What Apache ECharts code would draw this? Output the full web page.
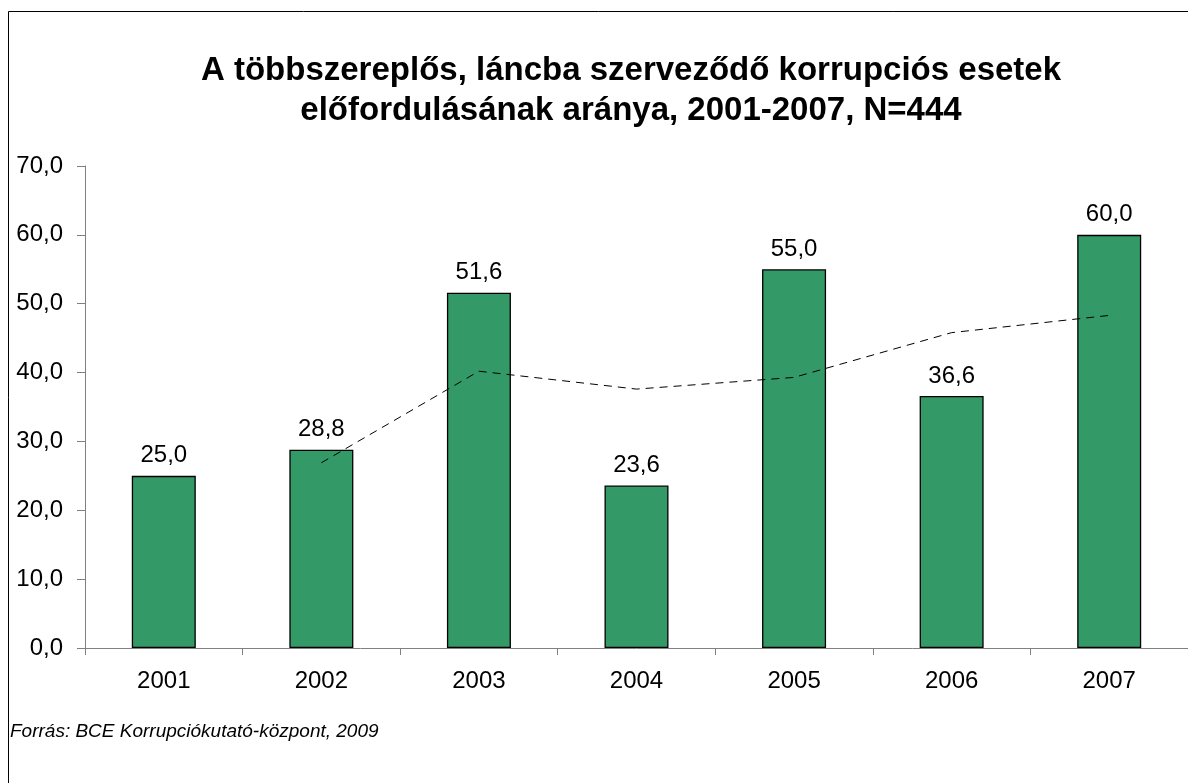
<!DOCTYPE html>
<html>
<head>
<meta charset="utf-8">
<script src="https://cdn.jsdelivr.net/npm/echarts@6/dist/echarts.min.js"></script>
<style>
  html, body { margin: 0; padding: 0; background: #fff; }
  #chart { width: 1188px; height: 783px; }
</style>
</head>
<body>
<div id="chart"></div>
<script>
var years = ['2001', '2002', '2003', '2004', '2005', '2006', '2007'];
var shares = [25.0, 28.8, 51.6, 23.6, 55.0, 36.6, 60.0];
var trend = ['-', 26.9, 40.2, 37.6, 39.3, 45.8, 48.3];

var chart = echarts.init(document.getElementById('chart'));

function fmt(v) {
  return v.toFixed(1).replace('.', ',');
}

var option = {
  animation: false,
  backgroundColor: '#ffffff',
  textStyle: { fontFamily: 'Liberation Sans, Arial, sans-serif' },
  graphic: [
    {
      type: 'polyline',
      shape: { points: [[8.5, 790], [8.5, 11.5], [1195, 11.5]] },
      style: { stroke: '#000', lineWidth: 1, fill: null }
    },
    {
      type: 'text',
      left: 10,
      top: 722,
      style: {
        text: 'Forrás: BCE Korrupciókutató-központ, 2009',
        fontStyle: 'italic',
        fontSize: 19,
        fill: '#000',
        fontFamily: 'Liberation Sans, Arial, sans-serif'
      }
    }
  ],
  title: {
    text: 'A többszereplős, láncba szerveződő korrupciós esetek\nelőfordulásának aránya, 2001-2007, N=444',
    left: 626,
    top: 46,
    textAlign: 'center',
    textStyle: {
      fontSize: 33,
      fontWeight: 'bold',
      color: '#000',
      lineHeight: 40,
      fontFamily: 'Liberation Sans, Arial, sans-serif'
    }
  },
  grid: {
    left: 85,
    top: 166,
    width: 1106,
    height: 482,
    containLabel: false
  },
  xAxis: {
    type: 'category',
    data: years,
    boundaryGap: true,
    axisLine: { lineStyle: { color: '#808080', width: 1 } },
    axisTick: { show: true, alignWithLabel: false, length: 7, lineStyle: { color: '#808080' } },
    axisLabel: { color: '#000', fontSize: 24, margin: 21 },
    splitLine: { show: false }
  },
  yAxis: {
    type: 'value',
    min: 0,
    max: 70,
    interval: 10,
    axisLine: { show: true, lineStyle: { color: '#808080', width: 1 } },
    axisTick: { show: true, inside: false, length: 8, lineStyle: { color: '#808080' } },
    axisLabel: { color: '#000', fontSize: 24, margin: 22, formatter: fmt },
    splitLine: { show: false }
  },
  series: [
    {
      type: 'bar',
      data: shares,
      barWidth: 64,
      itemStyle: { color: '#339966', borderColor: '#000', borderWidth: 1.3 },
      label: {
        show: true,
        position: 'top',
        distance: 8,
        color: '#000',
        fontSize: 24,
        formatter: function (p) { return fmt(p.value); }
      },
      z: 2
    },
    {
      type: 'line',
      data: trend,
      symbol: 'none',
      lineStyle: { color: '#000', width: 1, type: [8, 6] },
      z: 3
    }
  ]
};

chart.setOption(option);
</script>
</body>
</html>
